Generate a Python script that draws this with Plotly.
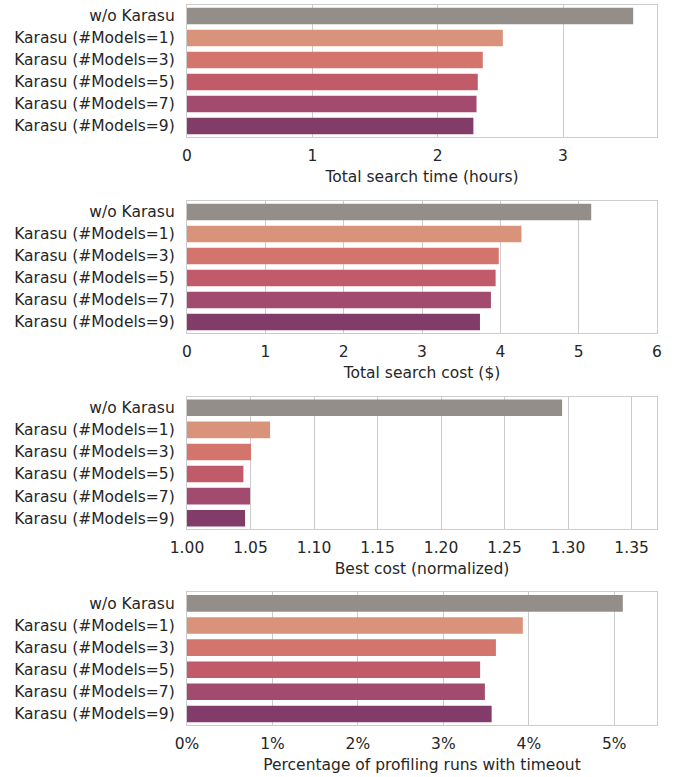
import plotly.graph_objects as go

categories = ["w/o Karasu", "Karasu (#Models=1)", "Karasu (#Models=3)",
              "Karasu (#Models=5)", "Karasu (#Models=7)", "Karasu (#Models=9)"]
search_time_hours = [3.56, 2.52, 2.36, 2.32, 2.31, 2.285]
search_cost_usd = [5.16, 4.27, 3.98, 3.94, 3.88, 3.74]
best_cost_norm = [1.2953, 1.0654, 1.0504, 1.0444, 1.0496, 1.0457]
timeout_pct = [0.0510, 0.0393, 0.03615, 0.0343, 0.03486, 0.03565]

xlabels = ["Total search time (hours)", "Total search cost ($)",
           "Best cost (normalized)", "Percentage of profiling runs with timeout"]
colors = ["#938e89", "#d9937a", "#d3756c", "#c15a69", "#a24b6f", "#833c6a"]

series = [search_time_hours, search_cost_usd, best_cost_norm, timeout_pct]
ranges = [[0, 3.75], [0, 6], [1.0, 1.37], [0, 0.055]]
dticks = [1, 1, 0.05, 0.01]
formats = ["d", "d", ".2f", ".0%"]
domains = [[0.8167, 1.0], [0.5444, 0.7278], [0.2718, 0.456], [0.0, 0.1843]]

FONT = "DejaVu Sans"
TXT = "#262626"
GRID = "#cccccc"

fig = go.Figure()
layout = dict(
    width=677, height=777,
    margin=dict(l=187, r=20, t=5, b=52),
    paper_bgcolor="white", plot_bgcolor="white",
    showlegend=False,
    font=dict(family=FONT, size=15.5, color=TXT),
)

for i, vals in enumerate(series):
    n = "" if i == 0 else str(i + 1)
    fig.add_trace(go.Bar(
        x=vals, y=categories, orientation="h", base=0,
        marker=dict(color=colors, line=dict(width=0)),
        width=0.75,
        xaxis="x" + n, yaxis="y" + n,
    ))
    layout["xaxis" + n] = dict(
        domain=[0, 1], anchor="y" + n, range=ranges[i], dtick=dticks[i], tick0=0 if i != 2 else 1.0,
        tickformat=formats[i], showgrid=True, gridcolor=GRID, gridwidth=1.1,
        showline=True, linecolor=GRID, linewidth=1.25, mirror=True,
        ticks="outside", ticklen=4, tickcolor="rgba(0,0,0,0)",
        zeroline=False,
        title=dict(text=xlabels[i], standoff=7, font=dict(size=15.5, color=TXT)),
        tickfont=dict(size=15.5, color=TXT),
    )
    layout["yaxis" + n] = dict(
        domain=domains[i], anchor="x" + n, autorange="reversed",
        showgrid=False, showline=True, linecolor=GRID, linewidth=1.25, mirror=True,
        ticks="outside", ticklen=8, tickcolor="rgba(0,0,0,0)",
        tickfont=dict(size=15.5, color=TXT), zeroline=False,
    )

fig.update_layout(**layout)
fig.write_html("out.html", config={"displayModeBar": False},
               post_script="document.body.style.margin='0';")
